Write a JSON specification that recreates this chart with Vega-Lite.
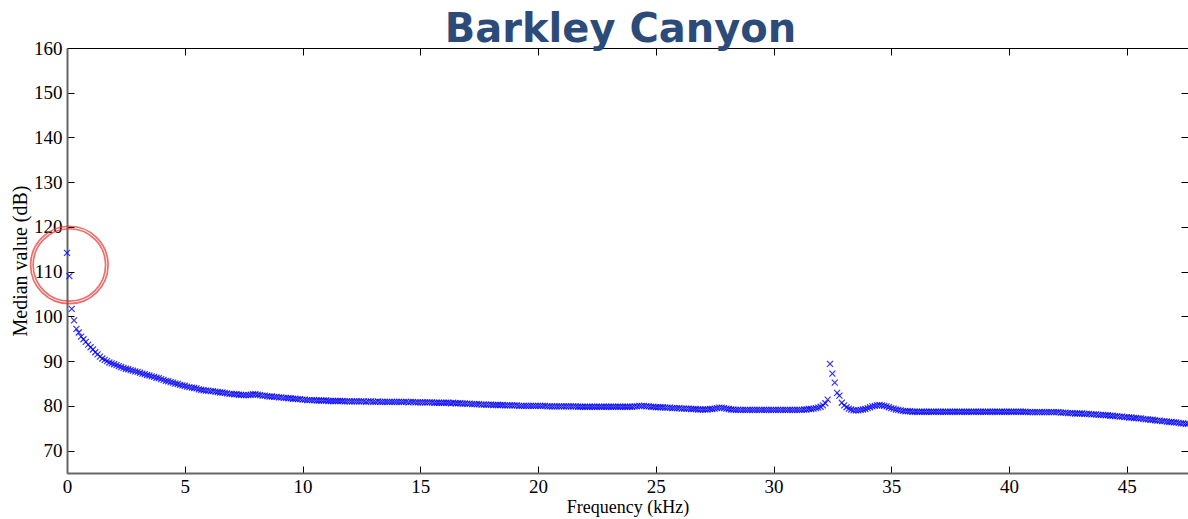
{
  "$schema": "https://vega.github.io/schema/vega-lite/v6.json",
  "width": 1121,
  "height": 425,
  "autosize": {"type": "none"},
  "padding": {"left": 67, "top": 48, "right": 0, "bottom": 46},
  "background": "white",
  "title": {"text": "Barkley Canyon", "font": "DejaVu Sans", "fontSize": 40, "fontWeight": "bold", "color": "#2c4b78", "anchor": "middle", "offset": -11, "dx": -7},
  "config": {
    "view": {"stroke": null},
    "axis": {"labelFont": "Liberation Serif", "labelFontSize": 19, "labelColor": "#000", "titleFont": "Liberation Serif", "titleFontSize": 20, "titleFontWeight": "normal", "titleColor": "#000", "tickColor": "#000", "tickWidth": 1, "grid": false, "labelOverlap": false, "labelFlush": false}
  },
  "resolve": {"axis": {"x": "independent", "y": "independent"}},
  "layer": [
    {
      "data": {"values": [
{"f":0.0,"v":114.2},{"f":0.1,"v":109.0},{"f":0.2,"v":101.7},{"f":0.3,"v":99.1},{"f":0.4,"v":97.2},{"f":0.5,"v":96.4},{"f":0.6,"v":95.5},{"f":0.7,"v":94.9},{"f":0.8,"v":94.3},{"f":0.9,"v":93.7},
{"f":1.0,"v":93.1},{"f":1.1,"v":92.6},{"f":1.2,"v":92.0},{"f":1.3,"v":91.5},{"f":1.4,"v":91.0},{"f":1.5,"v":90.6},{"f":1.6,"v":90.3},{"f":1.7,"v":90.0},{"f":1.8,"v":89.7},{"f":1.9,"v":89.5},
{"f":2.0,"v":89.3},{"f":2.1,"v":89.1},{"f":2.2,"v":88.9},{"f":2.3,"v":88.7},{"f":2.4,"v":88.5},{"f":2.5,"v":88.3},{"f":2.6,"v":88.2},{"f":2.7,"v":88.0},{"f":2.8,"v":87.9},{"f":2.9,"v":87.7},
{"f":3.0,"v":87.6},{"f":3.1,"v":87.4},{"f":3.2,"v":87.2},{"f":3.3,"v":87.1},{"f":3.4,"v":86.9},{"f":3.5,"v":86.8},{"f":3.6,"v":86.6},{"f":3.7,"v":86.5},{"f":3.8,"v":86.3},{"f":3.9,"v":86.2},
{"f":4.0,"v":86.0},{"f":4.1,"v":85.8},{"f":4.2,"v":85.6},{"f":4.3,"v":85.5},{"f":4.4,"v":85.3},{"f":4.5,"v":85.2},{"f":4.6,"v":85.0},{"f":4.7,"v":84.9},{"f":4.8,"v":84.7},{"f":4.9,"v":84.6},
{"f":5.0,"v":84.5},{"f":5.1,"v":84.3},{"f":5.2,"v":84.2},{"f":5.3,"v":84.1},{"f":5.4,"v":84.0},{"f":5.5,"v":83.9},{"f":5.6,"v":83.7},{"f":5.7,"v":83.6},{"f":5.8,"v":83.5},{"f":5.9,"v":83.4},
{"f":6.0,"v":83.4},{"f":6.1,"v":83.3},{"f":6.2,"v":83.3},{"f":6.3,"v":83.2},{"f":6.4,"v":83.1},{"f":6.5,"v":83.0},{"f":6.6,"v":83.0},{"f":6.7,"v":82.9},{"f":6.8,"v":82.8},{"f":6.9,"v":82.7},
{"f":7.0,"v":82.7},{"f":7.1,"v":82.6},{"f":7.2,"v":82.6},{"f":7.3,"v":82.5},{"f":7.4,"v":82.5},{"f":7.5,"v":82.4},{"f":7.6,"v":82.4},{"f":7.7,"v":82.4},{"f":7.8,"v":82.5},{"f":7.9,"v":82.6},
{"f":8.0,"v":82.6},{"f":8.1,"v":82.5},{"f":8.2,"v":82.4},{"f":8.3,"v":82.3},{"f":8.4,"v":82.3},{"f":8.5,"v":82.2},{"f":8.6,"v":82.1},{"f":8.7,"v":82.1},{"f":8.8,"v":82.0},{"f":8.9,"v":82.0},
{"f":9.0,"v":81.9},{"f":9.1,"v":81.9},{"f":9.2,"v":81.8},{"f":9.3,"v":81.8},{"f":9.4,"v":81.7},{"f":9.5,"v":81.7},{"f":9.6,"v":81.6},{"f":9.7,"v":81.6},{"f":9.8,"v":81.5},{"f":9.9,"v":81.5},
{"f":10.0,"v":81.4},{"f":10.1,"v":81.4},{"f":10.2,"v":81.3},{"f":10.3,"v":81.3},{"f":10.4,"v":81.3},{"f":10.5,"v":81.3},{"f":10.6,"v":81.2},{"f":10.7,"v":81.2},{"f":10.8,"v":81.2},{"f":10.9,"v":81.2},
{"f":11.0,"v":81.2},{"f":11.1,"v":81.1},{"f":11.2,"v":81.1},{"f":11.3,"v":81.1},{"f":11.4,"v":81.1},{"f":11.5,"v":81.1},{"f":11.6,"v":81.1},{"f":11.7,"v":81.1},{"f":11.8,"v":81.0},{"f":11.9,"v":81.0},
{"f":12.0,"v":81.0},{"f":12.1,"v":81.0},{"f":12.2,"v":81.0},{"f":12.3,"v":81.0},{"f":12.4,"v":81.0},{"f":12.5,"v":81.0},{"f":12.6,"v":81.0},{"f":12.7,"v":80.9},{"f":12.8,"v":81.0},{"f":12.9,"v":81.0},
{"f":13.0,"v":80.9},{"f":13.1,"v":80.9},{"f":13.2,"v":81.0},{"f":13.3,"v":80.9},{"f":13.4,"v":80.9},{"f":13.5,"v":80.9},{"f":13.6,"v":80.9},{"f":13.7,"v":80.9},{"f":13.8,"v":80.9},{"f":13.9,"v":80.9},
{"f":14.0,"v":80.9},{"f":14.1,"v":80.9},{"f":14.2,"v":80.9},{"f":14.3,"v":80.9},{"f":14.4,"v":80.9},{"f":14.5,"v":80.8},{"f":14.6,"v":80.9},{"f":14.7,"v":80.9},{"f":14.8,"v":80.8},{"f":14.9,"v":80.8},
{"f":15.0,"v":80.8},{"f":15.1,"v":80.8},{"f":15.2,"v":80.8},{"f":15.3,"v":80.8},{"f":15.4,"v":80.8},{"f":15.5,"v":80.8},{"f":15.6,"v":80.7},{"f":15.7,"v":80.7},{"f":15.8,"v":80.7},{"f":15.9,"v":80.7},
{"f":16.0,"v":80.7},{"f":16.1,"v":80.7},{"f":16.2,"v":80.7},{"f":16.3,"v":80.6},{"f":16.4,"v":80.7},{"f":16.5,"v":80.6},{"f":16.6,"v":80.6},{"f":16.7,"v":80.6},{"f":16.8,"v":80.5},{"f":16.9,"v":80.5},
{"f":17.0,"v":80.5},{"f":17.1,"v":80.5},{"f":17.2,"v":80.4},{"f":17.3,"v":80.4},{"f":17.4,"v":80.4},{"f":17.5,"v":80.4},{"f":17.6,"v":80.3},{"f":17.7,"v":80.3},{"f":17.8,"v":80.3},{"f":17.9,"v":80.3},
{"f":18.0,"v":80.3},{"f":18.1,"v":80.2},{"f":18.2,"v":80.2},{"f":18.3,"v":80.2},{"f":18.4,"v":80.2},{"f":18.5,"v":80.2},{"f":18.6,"v":80.1},{"f":18.7,"v":80.1},{"f":18.8,"v":80.1},{"f":18.9,"v":80.1},
{"f":19.0,"v":80.1},{"f":19.1,"v":80.1},{"f":19.2,"v":80.0},{"f":19.3,"v":80.0},{"f":19.4,"v":80.0},{"f":19.5,"v":80.0},{"f":19.6,"v":80.0},{"f":19.7,"v":80.0},{"f":19.8,"v":80.0},{"f":19.9,"v":80.0},
{"f":20.0,"v":80.0},{"f":20.1,"v":80.0},{"f":20.2,"v":80.0},{"f":20.3,"v":80.0},{"f":20.4,"v":79.9},{"f":20.5,"v":79.9},{"f":20.6,"v":79.9},{"f":20.7,"v":79.9},{"f":20.8,"v":79.9},{"f":20.9,"v":79.9},
{"f":21.0,"v":79.9},{"f":21.1,"v":79.9},{"f":21.2,"v":79.9},{"f":21.3,"v":79.9},{"f":21.4,"v":79.9},{"f":21.5,"v":79.9},{"f":21.6,"v":79.9},{"f":21.7,"v":79.8},{"f":21.8,"v":79.8},{"f":21.9,"v":79.8},
{"f":22.0,"v":79.8},{"f":22.1,"v":79.8},{"f":22.2,"v":79.8},{"f":22.3,"v":79.8},{"f":22.4,"v":79.8},{"f":22.5,"v":79.8},{"f":22.6,"v":79.8},{"f":22.7,"v":79.8},{"f":22.8,"v":79.8},{"f":22.9,"v":79.8},
{"f":23.0,"v":79.8},{"f":23.1,"v":79.8},{"f":23.2,"v":79.8},{"f":23.3,"v":79.8},{"f":23.4,"v":79.8},{"f":23.5,"v":79.8},{"f":23.6,"v":79.8},{"f":23.7,"v":79.8},{"f":23.8,"v":79.8},{"f":23.9,"v":79.8},
{"f":24.0,"v":79.8},{"f":24.1,"v":79.9},{"f":24.2,"v":79.9},{"f":24.3,"v":80.0},{"f":24.4,"v":80.0},{"f":24.5,"v":80.0},{"f":24.6,"v":79.9},{"f":24.7,"v":79.9},{"f":24.8,"v":79.8},{"f":24.9,"v":79.8},
{"f":25.0,"v":79.7},{"f":25.1,"v":79.7},{"f":25.2,"v":79.7},{"f":25.3,"v":79.7},{"f":25.4,"v":79.6},{"f":25.5,"v":79.6},{"f":25.6,"v":79.6},{"f":25.7,"v":79.5},{"f":25.8,"v":79.5},{"f":25.9,"v":79.5},
{"f":26.0,"v":79.5},{"f":26.1,"v":79.4},{"f":26.2,"v":79.4},{"f":26.3,"v":79.4},{"f":26.4,"v":79.4},{"f":26.5,"v":79.3},{"f":26.6,"v":79.3},{"f":26.7,"v":79.3},{"f":26.8,"v":79.2},{"f":26.9,"v":79.2},
{"f":27.0,"v":79.2},{"f":27.1,"v":79.2},{"f":27.2,"v":79.2},{"f":27.3,"v":79.3},{"f":27.4,"v":79.3},{"f":27.5,"v":79.4},{"f":27.6,"v":79.5},{"f":27.7,"v":79.6},{"f":27.8,"v":79.6},{"f":27.9,"v":79.5},
{"f":28.0,"v":79.4},{"f":28.1,"v":79.3},{"f":28.2,"v":79.2},{"f":28.3,"v":79.2},{"f":28.4,"v":79.1},{"f":28.5,"v":79.1},{"f":28.6,"v":79.1},{"f":28.7,"v":79.1},{"f":28.8,"v":79.1},{"f":28.9,"v":79.1},
{"f":29.0,"v":79.1},{"f":29.1,"v":79.1},{"f":29.2,"v":79.1},{"f":29.3,"v":79.1},{"f":29.4,"v":79.1},{"f":29.5,"v":79.1},{"f":29.6,"v":79.1},{"f":29.7,"v":79.1},{"f":29.8,"v":79.1},{"f":29.9,"v":79.1},
{"f":30.0,"v":79.1},{"f":30.1,"v":79.1},{"f":30.2,"v":79.1},{"f":30.3,"v":79.1},{"f":30.4,"v":79.1},{"f":30.5,"v":79.1},{"f":30.6,"v":79.1},{"f":30.7,"v":79.1},{"f":30.8,"v":79.1},{"f":30.9,"v":79.1},
{"f":31.0,"v":79.1},{"f":31.1,"v":79.1},{"f":31.2,"v":79.1},{"f":31.3,"v":79.2},{"f":31.4,"v":79.2},{"f":31.5,"v":79.3},{"f":31.6,"v":79.3},{"f":31.7,"v":79.4},{"f":31.8,"v":79.5},{"f":31.9,"v":79.6},
{"f":32.0,"v":79.8},{"f":32.1,"v":80.1},{"f":32.2,"v":80.6},{"f":32.3,"v":81.4},{"f":32.4,"v":89.4},{"f":32.5,"v":87.2},{"f":32.6,"v":85.2},{"f":32.7,"v":82.9},{"f":32.8,"v":82.3},{"f":32.9,"v":80.7},
{"f":33.0,"v":80.1},{"f":33.1,"v":79.7},{"f":33.2,"v":79.4},{"f":33.3,"v":79.2},{"f":33.4,"v":79.0},{"f":33.5,"v":79.0},{"f":33.6,"v":79.0},{"f":33.7,"v":79.1},{"f":33.8,"v":79.2},{"f":33.9,"v":79.3},
{"f":34.0,"v":79.5},{"f":34.1,"v":79.7},{"f":34.2,"v":79.9},{"f":34.3,"v":80.0},{"f":34.4,"v":80.1},{"f":34.5,"v":80.2},{"f":34.6,"v":80.1},{"f":34.7,"v":80.0},{"f":34.8,"v":79.9},{"f":34.9,"v":79.7},
{"f":35.0,"v":79.5},{"f":35.1,"v":79.4},{"f":35.2,"v":79.2},{"f":35.3,"v":79.1},{"f":35.4,"v":79.0},{"f":35.5,"v":78.9},{"f":35.6,"v":78.8},{"f":35.7,"v":78.8},{"f":35.8,"v":78.8},{"f":35.9,"v":78.7},
{"f":36.0,"v":78.7},{"f":36.1,"v":78.7},{"f":36.2,"v":78.7},{"f":36.3,"v":78.7},{"f":36.4,"v":78.7},{"f":36.5,"v":78.7},{"f":36.6,"v":78.7},{"f":36.7,"v":78.7},{"f":36.8,"v":78.7},{"f":36.9,"v":78.7},
{"f":37.0,"v":78.7},{"f":37.1,"v":78.7},{"f":37.2,"v":78.7},{"f":37.3,"v":78.7},{"f":37.4,"v":78.7},{"f":37.5,"v":78.7},{"f":37.6,"v":78.7},{"f":37.7,"v":78.7},{"f":37.8,"v":78.7},{"f":37.9,"v":78.7},
{"f":38.0,"v":78.7},{"f":38.1,"v":78.7},{"f":38.2,"v":78.7},{"f":38.3,"v":78.7},{"f":38.4,"v":78.7},{"f":38.5,"v":78.7},{"f":38.6,"v":78.7},{"f":38.7,"v":78.7},{"f":38.8,"v":78.7},{"f":38.9,"v":78.7},
{"f":39.0,"v":78.7},{"f":39.1,"v":78.7},{"f":39.2,"v":78.7},{"f":39.3,"v":78.7},{"f":39.4,"v":78.7},{"f":39.5,"v":78.7},{"f":39.6,"v":78.7},{"f":39.7,"v":78.7},{"f":39.8,"v":78.7},{"f":39.9,"v":78.7},
{"f":40.0,"v":78.7},{"f":40.1,"v":78.7},{"f":40.2,"v":78.7},{"f":40.3,"v":78.7},{"f":40.4,"v":78.7},{"f":40.5,"v":78.7},{"f":40.6,"v":78.7},{"f":40.7,"v":78.7},{"f":40.8,"v":78.6},{"f":40.9,"v":78.6},
{"f":41.0,"v":78.6},{"f":41.1,"v":78.6},{"f":41.2,"v":78.6},{"f":41.3,"v":78.6},{"f":41.4,"v":78.6},{"f":41.5,"v":78.6},{"f":41.6,"v":78.6},{"f":41.7,"v":78.6},{"f":41.8,"v":78.6},{"f":41.9,"v":78.6},
{"f":42.0,"v":78.6},{"f":42.1,"v":78.6},{"f":42.2,"v":78.5},{"f":42.3,"v":78.5},{"f":42.4,"v":78.5},{"f":42.5,"v":78.4},{"f":42.6,"v":78.4},{"f":42.7,"v":78.4},{"f":42.8,"v":78.3},{"f":42.9,"v":78.3},
{"f":43.0,"v":78.3},{"f":43.1,"v":78.3},{"f":43.2,"v":78.2},{"f":43.3,"v":78.2},{"f":43.4,"v":78.2},{"f":43.5,"v":78.1},{"f":43.6,"v":78.1},{"f":43.7,"v":78.1},{"f":43.8,"v":78.0},{"f":43.9,"v":78.0},
{"f":44.0,"v":78.0},{"f":44.1,"v":77.9},{"f":44.2,"v":77.9},{"f":44.3,"v":77.8},{"f":44.4,"v":77.8},{"f":44.5,"v":77.7},{"f":44.6,"v":77.7},{"f":44.7,"v":77.6},{"f":44.8,"v":77.6},{"f":44.9,"v":77.5},
{"f":45.0,"v":77.5},{"f":45.1,"v":77.4},{"f":45.2,"v":77.4},{"f":45.3,"v":77.3},{"f":45.4,"v":77.3},{"f":45.5,"v":77.2},{"f":45.6,"v":77.2},{"f":45.7,"v":77.1},{"f":45.8,"v":77.0},{"f":45.9,"v":77.0},
{"f":46.0,"v":76.9},{"f":46.1,"v":76.9},{"f":46.2,"v":76.8},{"f":46.3,"v":76.7},{"f":46.4,"v":76.7},{"f":46.5,"v":76.6},{"f":46.6,"v":76.6},{"f":46.7,"v":76.5},{"f":46.8,"v":76.4},{"f":46.9,"v":76.4},
{"f":47.0,"v":76.3},{"f":47.1,"v":76.3},{"f":47.2,"v":76.2},{"f":47.3,"v":76.1},{"f":47.4,"v":76.1},{"f":47.5,"v":76.0},{"f":47.6,"v":76.0}
      ]},
      "mark": {"type": "point", "shape": "M-1,-1L1,1M-1,1L1,-1", "size": 36, "filled": false, "color": "#0000ff", "strokeWidth": 1.2, "opacity": 0.8},
      "encoding": {
        "x": {"field": "f", "type": "quantitative", "scale": {"domain": [0, 47.6], "nice": false, "zero": false},
              "axis": {"orient": "bottom", "title": "Frequency (kHz)", "titleFontSize": 18, "values": [0,5,10,15,20,25,30,35,40,45], "tickSize": -7, "labelPadding": 11, "titlePadding": 2, "domainColor": "#666", "domainWidth": 2}},
        "y": {"field": "v", "type": "quantitative", "scale": {"domain": [65, 160], "nice": false, "zero": false},
              "axis": {"orient": "left", "title": "Median value (dB)", "values": [70,80,90,100,110,120,130,140,150,160], "tickSize": -7, "labelPadding": 12, "titlePadding": 3, "domainColor": "#666", "domainWidth": 2}}
      }
    },
    {
      "data": {"values": [{"f": 0.1, "v": 111.5}]},
      "mark": {"type": "point", "shape": "circle", "size": 6000, "filled": false, "color": "#e5302c", "strokeWidth": 1.7},
      "encoding": {
        "x": {"field": "f", "type": "quantitative", "scale": {"domain": [0, 47.6], "nice": false, "zero": false},
              "axis": {"orient": "top", "title": null, "labels": false, "values": [5,10,15,20,25,30,35,40,45], "tickSize": -7, "domainColor": "#000", "domainWidth": 1}},
        "y": {"field": "v", "type": "quantitative", "scale": {"domain": [65, 160], "nice": false, "zero": false},
              "axis": {"orient": "right", "title": null, "labels": false, "values": [70,80,90,100,110,120,130,140,150], "tickSize": -7, "domainColor": "#000", "domainWidth": 1}}
      }
    },
    {
      "data": {"values": [{"f": 0.1, "v": 111.5}]},
      "mark": {"type": "point", "shape": "circle", "size": 5250, "filled": false, "color": "#e5302c", "strokeWidth": 1.7},
      "encoding": {
        "x": {"field": "f", "type": "quantitative", "scale": {"domain": [0, 47.6], "nice": false, "zero": false}, "axis": null},
        "y": {"field": "v", "type": "quantitative", "scale": {"domain": [65, 160], "nice": false, "zero": false}, "axis": null}
      }
    }
  ]
}
